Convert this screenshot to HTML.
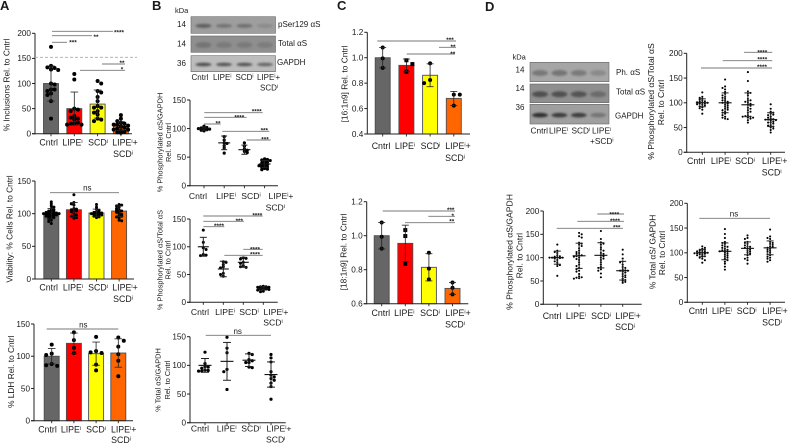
<!DOCTYPE html>
<html lang="en">
<head>
<meta charset="utf-8">
<title>Multi-panel figure</title>
<style>
html,body{margin:0;padding:0;background:#fff;}
svg{display:block;}
text{font-family:"Liberation Sans",Arial,sans-serif;fill:#1a1a1a;}
</style>
</head>
<body>
<svg id="figure" xmlns="http://www.w3.org/2000/svg" width="788" height="444" viewBox="0 0 788 444">
<defs><filter id="soft" x="-30%" y="-100%" width="160%" height="300%"><feGaussianBlur stdDeviation="1"/></filter></defs>
<text x="0" y="10" font-size="13" font-weight="bold">A</text>
<text x="152" y="10" font-size="13" font-weight="bold">B</text>
<text x="337" y="10" font-size="13" font-weight="bold">C</text>
<text x="485" y="11" font-size="13" font-weight="bold">D</text>

<text x="175" y="13" font-size="7.5">kDa</text>
<text x="177" y="27" font-size="8">14</text>
<text x="177" y="46.5" font-size="8">14</text>
<text x="177" y="66" font-size="8">36</text>
<text x="278" y="27" font-size="8">pSer129 αS</text>
<text x="278" y="46" font-size="8">Total αS</text>
<text x="277" y="65" font-size="8">GAPDH</text>
<text x="191.5" y="80" font-size="8">Cntrl</text>
<text x="213" y="80" font-size="8">LIPE<tspan font-size="5" dy="-2.5">i</tspan></text>
<text x="235.5" y="80" font-size="8">SCD<tspan font-size="5" dy="-2.5">i</tspan></text>
<text x="257" y="80" font-size="8">LIPE<tspan font-size="5" dy="-2.5">i</tspan><tspan dy="2.5">+</tspan></text>
<text x="260" y="90.5" font-size="8">SCD<tspan font-size="5" dy="-2.5">i</tspan></text>

<text x="512.5" y="59.5" font-size="7.5">kDa</text>
<text x="515.5" y="72.5" font-size="8">14</text>
<text x="515.5" y="91" font-size="8">14</text>
<text x="515.5" y="110" font-size="8">36</text>
<text x="616" y="75" font-size="8">Ph. αS</text>
<text x="616" y="94.5" font-size="8">Total αS</text>
<text x="615" y="118.5" font-size="8">GAPDH</text>
<text x="530.5" y="133.5" font-size="8.3">Cntrl</text>
<text x="549" y="133.5" font-size="8.3">LIPE<tspan font-size="5" dy="-2.5">i</tspan></text>
<text x="571.5" y="133.5" font-size="8.3">SCD<tspan font-size="5" dy="-2.5">i</tspan></text>
<text x="592" y="133.5" font-size="8.3">LIPE<tspan font-size="5" dy="-2.5">i</tspan></text>
<text x="590" y="144" font-size="8.3">+SCD<tspan font-size="5" dy="-2.5">i</tspan></text>
</svg>
<script>
// ---------- shared data ----------
const categories = ['Cntrl', 'LIPE^i', 'SCD^i', 'LIPE^i+|SCD^i'];
const barColours = ['#666666', '#ff0000', '#ffff00', '#ff6600'];

// Panel A – inclusions
const a1Ticks = [0, 50, 100, 150, 200];
const a1Means = [100, 50, 59, 15];
const a1Sds = [35, 33, 28, 9];
const a1Cntrl = [173, 135, 132, 131, 128, 127, 100, 98, 88, 88, 85, 80, 77, 65, 30];
const a1Lipe = [119, 108, 50, 48, 45, 35, 32, 30, 28, 22, 20, 20, 18, 18];
const a1Scd = [105, 100, 85, 82, 73, 65, 55, 52, 52, 45, 42, 38, 30, 28, 25];
const a1Combo = [37, 30, 25, 22, 20, 18, 18, 16, 15, 14, 12, 12, 10, 8, 8, 6, 4, 3, 2];

// Panel A – viability
const a2Ticks = [0, 50, 100, 150];
const a2Means = [100, 106, 101, 104];
const a2Sds = [8, 11, 6, 8];
const a2Cntrl = [118, 115, 112, 110, 108, 106, 105, 104, 103, 102, 102, 101, 101, 100, 100, 100, 99, 99, 98, 98, 97, 96, 96, 95, 94, 93, 92, 90, 88, 85];
const a2Lipe = [129, 117, 115, 113, 108, 107, 106, 105, 104, 103, 100, 98, 96, 96, 94, 93];
const a2Scd = [114, 110, 107, 105, 103, 102, 102, 101, 100, 100, 99, 99, 98, 97, 96, 95, 94];
const a2Combo = [114, 113, 112, 110, 108, 106, 105, 104, 103, 102, 100, 99, 97, 96, 95, 93, 90, 89];

// Panel A – LDH
const a3Ticks = [0, 50, 100, 150];
const a3Means = [100, 120, 104, 105];
const a3Sds = [12, 16, 18, 22];
const a3Cntrl = [118, 104, 102, 88, 86, 85];
const a3Lipe = [137, 125, 113, 105];
const a3Scd = [130, 108, 106, 105, 87, 78];
const a3Combo = [129, 124, 115, 103, 93, 69];

// Panel B – phospho / GAPDH
const b1Ticks = [0, 50, 100, 150];
const b1Means = [100, 75, 63, 38];
const b1Sds = [3, 12, 8, 6];
const b1Cntrl = [104, 102, 101, 100, 100, 99, 98, 97, 96];
const b1Lipe = [86, 80, 75, 74, 70, 66, 57];
const b1Scd = [75, 69, 64, 62, 60, 58];
const b1Combo = [47, 46, 45, 44, 42, 41, 40, 38, 37, 36, 35, 34, 33, 32, 30, 29, 28];

// Panel B – phospho / total
const b2Ticks = [0, 50, 100, 150];
const b2Means = [100, 60, 72, 25];
const b2Sds = [17, 14, 9, 3];
const b2Cntrl = [130, 108, 98, 95, 86, 85, 84];
const b2Lipe = [73, 72, 68, 64, 62, 52, 50, 47];
const b2Scd = [80, 79, 78, 72, 70, 66, 64, 63];
const b2Combo = [29, 28, 28, 27, 27, 26, 26, 25, 25, 24, 24, 23, 22, 20, 19];

// Panel B – total / GAPDH
const b3Ticks = [0, 50, 100, 150];
const b3Means = [100, 107, 109, 84];
const b3Sds = [12, 33, 11, 22];
const b3Cntrl = [123, 103, 98, 97, 95, 92, 91, 90, 90];
const b3Lipe = [149, 130, 122, 93, 89, 58];
const b3Scd = [121, 119, 110, 108, 105, 105, 97, 96];
const b3Combo = [119, 113, 106, 89, 83, 80, 77, 74, 69, 63, 41];

// Panel C – 16:1n9
const c1Ticks = [0.4, 0.6, 0.8, 1.0, 1.2];
const c1Means = [1.0, 0.94, 0.862, 0.68];
const c1Sds = [0.08, 0.05, 0.09, 0.055];
const c1Cntrl = [1.08, 0.995, 0.92];
const c1Lipe = [0.98, 0.95, 0.89];
const c1Scd = [0.956, 0.825, 0.8];
const c1Combo = [0.71, 0.71, 0.623];

// Panel C – 18:1n9
const c2Ticks = [0.6, 0.8, 1.0, 1.2];
const c2Means = [1.0, 0.955, 0.814, 0.69];
const c2Sds = [0.078, 0.107, 0.08, 0.035];
const c2Cntrl = [1.078, 0.994, 0.924];
const c2Lipe = [1.033, 0.998, 0.835];
const c2Scd = [0.9, 0.806, 0.743];
const c2Combo = [0.725, 0.694, 0.655];

// Panel D – phospho / total
const d1Ticks = [0, 50, 100, 150, 200];
const d1Means = [100, 100, 96, 66];
const d1Sds = [8, 20, 24, 14];
const d1Cntrl = [121, 112, 110, 108, 106, 104, 103, 102, 101, 100, 100, 99, 98, 97, 96, 95, 93, 91, 89, 86, 78];
const d1Lipe = [147, 133, 130, 127, 122, 118, 115, 112, 110, 108, 105, 104, 102, 100, 100, 98, 96, 94, 92, 90, 88, 86, 85, 82, 80, 78, 75, 72, 70, 68, 67];
const d1Scd = [162, 144, 123, 120, 119, 115, 108, 105, 104, 102, 100, 98, 96, 94, 90, 88, 85, 82, 80, 75, 73, 72, 72, 70, 70, 68, 65, 60];
const d1Combo = [97, 88, 82, 80, 78, 76, 75, 72, 70, 68, 67, 66, 66, 65, 64, 62, 60, 60, 58, 55, 54, 52, 50, 48, 45, 40];

// Panel D – phospho / GAPDH
const d2Ticks = [0, 50, 100, 150, 200];
const d2Means = [100, 104, 105, 72];
const d2Sds = [14, 27, 27, 20];
const d2Cntrl = [128, 115, 112, 110, 105, 103, 102, 101, 100, 100, 100, 99, 98, 95, 92, 90, 86, 84, 82, 61];
const d2Lipe = [153, 150, 146, 143, 132, 130, 128, 125, 120, 115, 112, 110, 108, 105, 105, 103, 102, 100, 97, 95, 90, 85, 82, 78, 75, 72, 70, 65, 60, 58, 57, 56, 55];
const d2Scd = [157, 140, 133, 130, 128, 122, 118, 115, 110, 108, 105, 103, 100, 98, 95, 90, 85, 80, 78, 75, 72, 66, 58];
const d2Combo = [117, 107, 98, 92, 90, 85, 80, 78, 75, 73, 72, 72, 70, 68, 65, 62, 60, 58, 55, 52, 50, 48, 46];

// Panel D – total / GAPDH
const d3Ticks = [0, 50, 100, 150, 200];
const d3Means = [100, 103, 109, 110];
const d3Sds = [7, 17, 13, 14];
const d3Cntrl = [113, 110, 108, 106, 105, 104, 103, 102, 101, 100, 100, 99, 99, 98, 97, 96, 95, 93, 92, 90, 88, 85, 80];
const d3Lipe = [148, 138, 130, 122, 120, 118, 115, 113, 112, 110, 108, 106, 105, 104, 103, 102, 100, 98, 96, 94, 92, 90, 88, 85, 82, 78, 72, 66];
const d3Scd = [135, 130, 128, 122, 120, 118, 115, 113, 112, 110, 108, 106, 104, 102, 100, 98, 95, 90, 88, 85, 78];
const d3Combo = [147, 133, 130, 128, 122, 120, 118, 116, 113, 112, 110, 108, 106, 104, 102, 100, 97, 95, 92, 90, 88, 85, 82];

// Blot band darkness per lane
const blotBPser = ['#5f5f5f', '#757575', '#717171', '#8b8b8b'];
const blotBTotal = ['#757575', '#7a7a7a', '#7a7a7a', '#7d7d7d'];
const blotBGapdh = ['#4d4d4d', '#555555', '#555555', '#666666'];
const blotDPhos = ['#787878', '#757575', '#7a7a7a', '#8a8a8a'];
const blotDTotal = ['#4f4f4f', '#4f4f4f', '#525252', '#6a6a6a'];
const blotDGapdh = ['#2f2f2f', '#3a3a3a', '#3d3d3d', '#757575'];

// ---------- drawing helpers ----------
const NS = 'http://www.w3.org/2000/svg';
const root = document.getElementById('figure');

function make(tag, attrs, parent) {
  const el = document.createElementNS(NS, tag);
  for (const k in attrs) el.setAttribute(k, attrs[k]);
  parent.appendChild(el);
  return el;
}

function seg(parent, x1, y1, x2, y2, stroke, w) {
  return make('line', {x1: x1, y1: y1, x2: x2, y2: y2, stroke: stroke, 'stroke-width': w}, parent);
}

function richText(el, str) {
  const parts = str.split('^i');
  parts.forEach(function (part, i) {
    if (part) {
      const t = make('tspan', i > 0 ? {dy: 2.5} : {}, el);
      t.textContent = part;
    }
    if (i < parts.length - 1) {
      const s = make('tspan', {'font-size': 5.5, dy: -2.5}, el);
      s.textContent = 'i';
    }
  });
}

// Beeswarm: highest value first; take the least crowded slot within the allowed width
function swarm(values, scale, step, rowH, maxOff) {
  const placed = [];
  const slots = [0];
  for (let k = 1; k * step <= maxOff; k++) {
    slots.push(k * step);
    slots.push(-k * step);
  }
  values.slice().sort(function (a, b) { return b - a; }).forEach(function (v, idx) {
    const y = scale(v);
    let best = slots[0];
    let bestCount = Infinity;
    const rotated = slots.slice(0, 1).concat(idx % 2 ? slots.slice(1) : slots.slice(1).map(function (s) { return -s; }));
    rotated.forEach(function (off) {
      const count = placed.filter(function (p) {
        return Math.abs(p.y - y) < rowH && Math.abs(p.off - off) < step * 0.9;
      }).length;
      if (count < bestCount) { bestCount = count; best = off; }
    });
    placed.push({y: y, off: best});
  });
  return placed;
}

function drawPanel(c) {
  const g = make('g', {}, root);
  
  

  const scale = function (v) {
    return c.bottom - (v - c.min) / (c.max - c.min) * (c.bottom - c.top);
  };
  const colX = function (i) { return c.first + i * c.gap; };

  // bars
  if (c.bars) {
    c.means.forEach(function (m, i) {
      const bar = make('rect', {
        x: colX(i) - 7.5, y: scale(m), width: 15, height: Math.max(0, c.bottom - scale(m)),
        fill: barColours[i], stroke: '#4f4f4f', 'stroke-width': 0.9
      }, g);
      
      
    });
  }

  // axes
  const yAxis = seg(g, c.x, c.top, c.x, c.bottom + 0.5, '#222', 1);
  
  
  const xAxis = seg(g, c.x - 3, c.bottom, c.end, c.bottom, '#222', 1);
  
  

  c.ticks.forEach(function (t) {
    const tick = seg(g, c.x - 3, scale(t), c.x, scale(t), '#222', 1);
    
    
    const label = make('text', {x: c.x - 4, y: scale(t) + 2.8, 'font-size': 8.2, 'text-anchor': 'end'}, g);
    
    
    label.textContent = c.decimals ? t.toFixed(c.decimals) : String(t);
  });

  categories.forEach(function (cat, i) {
    const tick = seg(g, colX(i), c.bottom, colX(i), c.bottom + 2.5, '#222', 0.9);
    
    
    cat.split('|').forEach(function (line, k) {
      const label = make('text', {
        x: k === 0 ? c.labelX[i] : c.label2X,
        y: c.bottom + (k === 0 ? c.dy1 : c.dy2),
        'font-size': c.labelSize, 'text-anchor': 'middle'
      }, g);
      
      
      richText(label, line);
    });
  });

  // dots
  c.series.forEach(function (vals, i) {
    swarm(vals, scale, c.step, c.rowH, c.maxOff).forEach(function (p) {
      const square = c.squareCol === i;
      const dot = square
        ? make('rect', {x: colX(i) + p.off - c.r, y: p.y - c.r, width: 2 * c.r, height: 2 * c.r, fill: '#000'}, g)
        : make('circle', {cx: colX(i) + p.off, cy: p.y, r: c.r, fill: '#000'}, g);
      
      
    });
  });

  // mean / sd marks
  c.means.forEach(function (m, i) {
    const x = colX(i), hi = scale(m + c.sds[i]), lo = scale(m - c.sds[i]);
    const whisker = seg(g, x, hi, x, lo, '#222', c.bars ? 0.8 : 1);
    
    
    const capTop = seg(g, x - c.cap, hi, x + c.cap, hi, '#222', c.bars ? 0.8 : 1);
    
    
    const capLow = seg(g, x - c.cap, lo, x + c.cap, lo, '#222', c.bars ? 0.8 : 1);
    
    
    if (!c.bars) {
      const meanLine = seg(g, x - c.meanW, scale(m), x + c.meanW, scale(m), '#111', 1.1);
      
      
    }
  });

  // axis titles (rotated)
  c.titles.forEach(function (t) {
    const title = make('text', {
      transform: 'translate(' + t[1] + ',' + t[2] + ') rotate(-90)',
      'font-size': c.titleSize, 'text-anchor': 'middle'
    }, g);
    
    
    title.textContent = t[0];
  });
}

function sig(x1, x2, y, label, lx, ly) {
  const line = seg(root, x1, y, x2, y, '#777', 0.9);
  
  
  const isNs = label === 'ns';
  const txt = make('text', {
    x: lx, y: isNs ? ly : ly + 3.6, 'text-anchor': 'middle',
    'font-size': isNs ? 8 : 6.4, 'font-weight': isNs ? 'normal' : 'bold'
  }, root);
  
  
  txt.textContent = label;
}

function blotRow(x, y, w, h, bg, bands, firstLane, laneGap, bandW, bandH) {
  const g = make('g', {}, root);
  
  
  const r = make('rect', {x: x, y: y, width: w, height: h, fill: bg, stroke: '#666', 'stroke-width': 0.6}, g);
  
  
  bands.forEach(function (col, i) {
    const e = make('ellipse', {cx: firstLane + i * laneGap, cy: y + h * 0.55, rx: bandW, ry: bandH, fill: col, filter: 'url(#soft)'}, g);
    
    
  });
}

// ---------- blots ----------
blotRow(191, 16.7, 84.5, 16.6, '#9e9e9e', blotBPser, 203.5, 20.5, 8, 2);
blotRow(191, 36, 84.5, 16.3, '#8f8f8f', blotBTotal, 203.5, 20.5, 8, 3);
blotRow(191, 55.7, 84.5, 16, '#bdbdbd', blotBGapdh, 203.5, 20.5, 8, 1.8);
blotRow(530, 62.3, 79, 19.4, '#a6a6a6', blotDPhos, 540, 19.4, 8, 3);
blotRow(530, 84, 79, 18.7, '#8f8f8f', blotDTotal, 540, 19.4, 8, 3);
blotRow(530, 104.3, 79, 19.7, '#9f9f9f', blotDGapdh, 540, 19.4, 8, 2.2);

// ---------- panels ----------
drawPanel({name: 'panel-a-inclusions', bars: true, x: 35, end: 132, top: 33.3, bottom: 133.7, min: 0, max: 200,
  first: 51, gap: 23.3, ticks: a1Ticks, means: a1Means, sds: a1Sds, series: [a1Cntrl, a1Lipe, a1Scd, a1Combo],
  r: 2, step: 3.6, rowH: 3.2, maxOff: 7.5, cap: 3.8, titleSize: 8.3, titles: [['% Inclusions Rel. to Cntrl', 9.5, 85]],
  labelX: [48.7, 72.5, 98, 125], label2X: 123, dy1: 12, dy2: 23.3, labelSize: 8.8});
drawPanel({name: 'panel-a-viability', bars: true, x: 35, end: 134, top: 181, bottom: 279, min: 0, max: 150,
  first: 51.3, gap: 22.6, ticks: a2Ticks, means: a2Means, sds: a2Sds, series: [a2Cntrl, a2Lipe, a2Scd, a2Combo],
  r: 1.5, step: 2.6, rowH: 1.8, maxOff: 8, cap: 3.8, titleSize: 8.3, titles: [['Viability: % Cells Rel. to Cntrl', 12.5, 229]],
  labelX: [48.7, 73, 98, 125], label2X: 123, dy1: 11.7, dy2: 23, labelSize: 8.8});
drawPanel({name: 'panel-a-ldh', bars: true, x: 34, end: 133, top: 324, bottom: 420.7, min: 0, max: 150,
  first: 51.7, gap: 22.2, ticks: a3Ticks, means: a3Means, sds: a3Sds, series: [a3Cntrl, a3Lipe, a3Scd, a3Combo],
  r: 2, step: 5.5, rowH: 4, maxOff: 6, cap: 3.8, titleSize: 8.3, titles: [['% LDH Rel. to Cntrl', 14, 371.7]],
  labelX: [47.5, 71, 96, 123.7], label2X: 121, dy1: 12, dy2: 22.5, labelSize: 8.8});

drawPanel({name: 'panel-b-phospho-gapdh', bars: false, x: 190, end: 278, top: 100, bottom: 185.7, min: 0, max: 150,
  first: 204, gap: 20.2, ticks: b1Ticks, means: b1Means, sds: b1Sds, series: [b1Cntrl, b1Lipe, b1Scd, b1Combo],
  r: 1.6, step: 2.8, rowH: 2.2, maxOff: 6, cap: 3, meanW: 6, titleSize: 7.4,
  titles: [['% Phosphorylated αS/GAPDH', 162.5, 142.5], ['Rel. to Cntrl', 171, 142.5]],
  labelX: [198, 226, 251, 281], label2X: 275.3, dy1: 13.3, dy2: 25, labelSize: 8.6});
drawPanel({name: 'panel-b-phospho-total', bars: false, x: 190, end: 277.7, top: 219, bottom: 302.3, min: 0, max: 150,
  first: 203.3, gap: 20, ticks: b2Ticks, means: b2Means, sds: b2Sds, series: [b2Cntrl, b2Lipe, b2Scd, b2Combo],
  r: 1.5, step: 2.8, rowH: 2.2, maxOff: 6, cap: 3.5, meanW: 5.5, titleSize: 7.4,
  titles: [['% Phosphorylated αS/Total αS', 162.5, 260], ['Rel. to Cntrl', 170.7, 260]],
  labelX: [200, 225, 249, 276], label2X: 273, dy1: 12.7, dy2: 23.4, labelSize: 8.6});
drawPanel({name: 'panel-b-total-gapdh', bars: false, x: 190, end: 285.7, top: 336.7, bottom: 422.7, min: 0, max: 150,
  first: 205, gap: 22, ticks: b3Ticks, means: b3Means, sds: b3Sds, series: [b3Cntrl, b3Lipe, b3Scd, b3Combo],
  r: 1.6, step: 3.2, rowH: 2.6, maxOff: 7, cap: 4, meanW: 6.5, titleSize: 7.4,
  titles: [['% Total αS/GAPDH', 160.7, 380], ['Rel. to Cntrl', 170, 380]],
  labelX: [200, 226.7, 251, 279], label2X: 275.7, dy1: 9, dy2: 20, labelSize: 8.6});

drawPanel({name: 'panel-c-16-1n9', bars: true, x: 367.3, end: 470, top: 32.3, bottom: 134, min: 0.4, max: 1.2, decimals: 1,
  first: 382.7, gap: 23.7, ticks: c1Ticks, means: c1Means, sds: c1Sds, series: [c1Cntrl, c1Lipe, c1Scd, c1Combo],
  squareCol: 1, r: 2, step: 6, rowH: 4, maxOff: 6, cap: 3.5, titleSize: 8.4, titles: [['[16:1n9] Rel. to Cntrl', 347.7, 84]],
  labelX: [381, 405, 430.5, 458], label2X: 455, dy1: 15, dy2: 27, labelSize: 8.8});
drawPanel({name: 'panel-c-18-1n9', bars: true, x: 366.7, end: 468.3, top: 201.7, bottom: 303.7, min: 0.6, max: 1.2, decimals: 1,
  first: 381.7, gap: 23.6, ticks: c2Ticks, means: c2Means, sds: c2Sds, series: [c2Cntrl, c2Lipe, c2Scd, c2Combo],
  squareCol: 1, r: 2, step: 6, rowH: 3, maxOff: 6, cap: 3.5, titleSize: 8.4, titles: [['[18:1n9] Rel. to Cntrl', 346.7, 252]],
  labelX: [380.8, 404.3, 430, 458], label2X: 455, dy1: 12.3, dy2: 23.6, labelSize: 8.8});

drawPanel({name: 'panel-d-phospho-total', bars: false, x: 686.7, end: 785, top: 53.3, bottom: 152.3, min: 0, max: 200,
  first: 702.3, gap: 22.8, ticks: d1Ticks, means: d1Means, sds: d1Sds, series: [d1Cntrl, d1Lipe, d1Scd, d1Combo],
  r: 1.05, step: 2.6, rowH: 1.8, maxOff: 9, cap: 3.5, meanW: 6.5, titleSize: 8.6,
  titles: [['% Phosphorylated αS/Total αS', 654, 101.5], ['Rel. to Cntrl', 664, 102.5]],
  labelX: [696.3, 721, 745, 774.7], label2X: 771.7, dy1: 11.7, dy2: 23.4, labelSize: 8.8});
drawPanel({name: 'panel-d-phospho-gapdh', bars: false, x: 543.3, end: 641.7, top: 211, bottom: 304.3, min: 0, max: 200,
  first: 557.3, gap: 21.8, ticks: d2Ticks, means: d2Means, sds: d2Sds, series: [d2Cntrl, d2Lipe, d2Scd, d2Combo],
  r: 1.05, step: 2.6, rowH: 1.8, maxOff: 9, cap: 3.5, meanW: 6.5, titleSize: 8.6,
  titles: [['% Phosphorylated αS/GAPDH', 512.7, 252], ['Rel. to Cntrl', 522.7, 255.7]],
  labelX: [552, 576, 601, 628], label2X: 625, dy1: 14.7, dy2: 25.7, labelSize: 8.8});
drawPanel({name: 'panel-d-total-gapdh', bars: false, x: 687.3, end: 785, top: 203.3, bottom: 302.3, min: 0, max: 200,
  first: 702.3, gap: 22.6, ticks: d3Ticks, means: d3Means, sds: d3Sds, series: [d3Cntrl, d3Lipe, d3Scd, d3Combo],
  r: 1.05, step: 2.6, rowH: 1.8, maxOff: 9, cap: 3.5, meanW: 6.5, titleSize: 8.4,
  titles: [['% Total αS/ GAPDH', 655.7, 252], ['Rel. to Cntrl', 665, 253]],
  labelX: [698, 722, 746.7, 775], label2X: 772, dy1: 11.7, dy2: 23.4, labelSize: 8.8});

// ---------- significance annotations ----------
const refLine = seg(root, 35, 57.3, 137, 57.3, '#aaa', 0.9);
refLine.setAttribute('stroke-dasharray', '3 2');



sig(52, 113, 31.3, '****', 119, 31);
sig(52, 92, 35.7, '**', 96, 35.5);
sig(52, 67, 42.3, '***', 73, 41);
sig(102, 125, 64, '**', 122, 61.5);
sig(80, 125, 70.3, '*', 122, 68);
sig(50, 119, 192.7, 'ns', 87.3, 190.5);
sig(46.7, 118.3, 329, 'ns', 83.3, 327.5);

sig(204.3, 262.7, 112.7, '****', 256.7, 110);
sig(204.3, 246.7, 117.3, '****', 239.3, 115.7);
sig(204, 220.7, 124, '**', 218, 121.7);
sig(222.3, 269.3, 131.3, '***', 264.3, 129);
sig(246.7, 270.7, 140, '***', 265, 137.7);

sig(203.3, 262.7, 216, '****', 257.3, 214);
sig(203.3, 244, 221.3, '***', 239.3, 219.5);
sig(203.3, 224.3, 226.7, '****', 219, 224.5);
sig(243.3, 262.7, 249.3, '****', 255, 247.7);
sig(224.3, 262.7, 255.3, '****', 255, 252.7);
sig(205.7, 271, 335.3, 'ns', 237.7, 334);

sig(377.3, 456, 41, '***', 450, 38.5);
sig(439, 456, 47.3, '**', 453, 45.5);
sig(406.7, 455, 54, '**', 452.7, 52.3);
sig(382.7, 455, 211, '***', 450.7, 208.3);
sig(428.3, 455, 216.3, '*', 452.7, 214.3);
sig(405, 455, 222.7, '**', 451.7, 220);

sig(744, 772.3, 52.3, '****', 762.3, 50.7);
sig(722.7, 772.3, 60.7, '****', 762.3, 58);
sig(701, 772, 68, '****', 762, 65.3);
sig(597.3, 624, 214, '****', 614.3, 212.7);
sig(577.3, 624, 221.3, '****', 615, 219.3);
sig(556.7, 623, 228.3, '***', 616.7, 226);
sig(699.3, 770, 218.3, 'ns', 734, 216.7);
</script>
</body>
</html>
